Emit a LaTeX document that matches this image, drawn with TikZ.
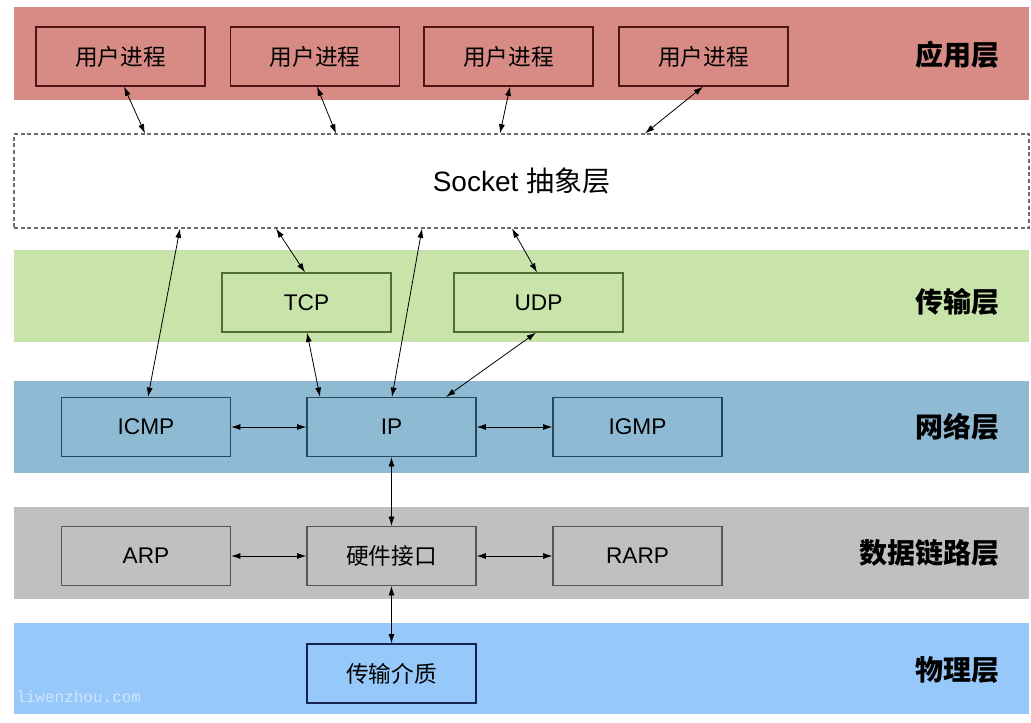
\documentclass[tikz,border=0pt]{standalone}
\usepackage{fontspec}
\setmainfont{Liberation Sans}
\newfontfamily\cjk{Noto Sans CJK SC}
\newfontfamily\wmfont{Liberation Mono}
\usetikzlibrary{arrows.meta}

\definecolor{appband}{RGB}{216,138,132}
\definecolor{appline}{RGB}{80,20,20}
\definecolor{tranband}{RGB}{200,228,170}
\definecolor{tranline}{RGB}{80,110,50}
\definecolor{netband}{RGB}{143,186,211}
\definecolor{netline}{RGB}{40,70,95}
\definecolor{linkband}{RGB}{192,192,192}
\definecolor{linkline}{RGB}{85,85,85}
\definecolor{phyband}{RGB}{150,200,250}
\definecolor{phyline}{RGB}{20,35,80}

\tikzset{
  band/.style={fill=#1, draw=none},
  proc/.style={draw=#1, line width=0.9pt, minimum width=126.75pt, minimum height=44.25pt,
    inner sep=0pt, font=\fontsize{17}{20}\selectfont},
  layername/.style={anchor=east, inner sep=0pt, font=\fontsize{21}{24}\selectfont\cjk\bfseries},
  dbl/.style={{Latex[length=7pt,width=4.5pt]}-{Latex[length=7pt,width=4.5pt]}, line width=0.6pt},
}

\begin{document}
\begin{tikzpicture}[x=0.75pt,y=0.75pt,yscale=-1,xscale=1]
\useasboundingbox (0,0) rectangle (1031,723);

% bands
\fill[band=appband]  (14,7)   rectangle (1029,100);
\fill[band=tranband] (14,250) rectangle (1029,342);
\fill[band=netband]  (14,381) rectangle (1029,473);
\fill[band=linkband] (14,507) rectangle (1029,599);
\fill[band=phyband]  (14,623) rectangle (1029,714);

% layer names
\node[layername] (lapp)  at (1000,55)  {应用层};
\node[layername] (ltran) at (1000,302) {传输层};
\node[layername] (lnet)  at (1000,427) {网络层};
\node[layername] (llink) at (1000,553) {数据链路层};
\node[layername] (lphy)  at (1000,670) {物理层};

% application layer
\node[proc=appline] (p1) at (120.5,56.5) {\cjk 用户进程};
\node[proc=appline] (p2) at (315,56.5)   {\cjk 用户进程};
\node[proc=appline] (p3) at (508.5,56.5) {\cjk 用户进程};
\node[proc=appline] (p4) at (703.5,56.5) {\cjk 用户进程};

% socket
\node[draw=gray!85!black, dash pattern=on 3pt off 2pt, line width=0.8pt, minimum width=761.25pt,
  minimum height=70.5pt, inner sep=0pt, font=\fontsize{21}{24}\selectfont] (sock) at (521.5,181)
  {Socket {\cjk 抽象层}};

% transport layer
\node[proc=tranline] (tcp) at (306.5,302.5) {TCP};
\node[proc=tranline] (udp) at (538.5,302.5) {UDP};

% network layer
\node[proc=netline] (icmp) at (146,427)   {ICMP};
\node[proc=netline] (ip)   at (391.5,427) {IP};
\node[proc=netline] (igmp) at (637.5,427) {IGMP};

% data link layer
\node[proc=linkline] (arp)  at (146,556)   {ARP};
\node[proc=linkline] (hw)   at (391.5,556) {\cjk 硬件接口};
\node[proc=linkline] (rarp) at (637.5,556) {RARP};

% physical layer
\node[proc=phyline] (med) at (391.5,673.5) {\cjk 传输介质};

% watermark
\node[anchor=west, inner sep=0pt, text=white, opacity=0.55, font=\fontsize{12}{14}\selectfont\wmfont]
  (wm) at (16,697) {liwenzhou.com};

% connections
\draw[dbl] (p1.south -| 124,0) -- (sock.north -| 145,0);
\draw[dbl] (p2.south -| 317,0) -- (sock.north -| 336,0);
\draw[dbl] (p3.south -| 510,0) -- (sock.north -| 500,0);
\draw[dbl] (p4.south -| 703,0) -- (sock.north -| 645,0);
\draw[dbl] (sock.south -| 180,0) -- (icmp.north -| 148,0);
\draw[dbl] (sock.south -| 276,0) -- (tcp.north -| 305,0);
\draw[dbl] (sock.south -| 422,0) -- (ip.north -| 392,0);
\draw[dbl] (sock.south -| 512,0) -- (udp.north -| 537,0);
\draw[dbl] (tcp.south -| 307,0) -- (ip.north -| 320,0);
\draw[dbl] (udp.south -| 536,0) -- (ip.north -| 446,0);
\draw[dbl] (icmp.east) -- (ip.west);
\draw[dbl] (ip.east) -- (igmp.west);
\draw[dbl] (ip.south) -- (hw.north);
\draw[dbl] (arp.east) -- (hw.west);
\draw[dbl] (hw.east) -- (rarp.west);
\draw[dbl] (hw.south) -- (med.north);

\end{tikzpicture}
\end{document}
